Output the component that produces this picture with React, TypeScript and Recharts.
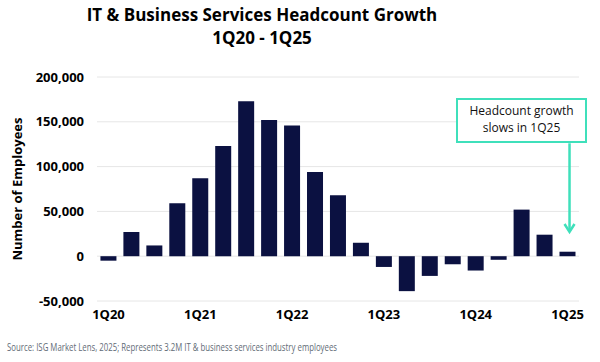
import React from "react";
import {
  BarChart,
  Bar,
  XAxis,
  YAxis,
  CartesianGrid,
  ReferenceLine,
} from "recharts";

const quarters = [
  "1Q20", "2Q20", "3Q20", "4Q20",
  "1Q21", "2Q21", "3Q21", "4Q21",
  "1Q22", "2Q22", "3Q22", "4Q22",
  "1Q23", "2Q23", "3Q23", "4Q23",
  "1Q24", "2Q24", "3Q24", "4Q24",
  "1Q25",
];

const headcountGrowth = [
  -5000, 27000, 12000, 59000,
  87000, 123000, 173000, 152000,
  146000, 94000, 68000, 15000,
  -12000, -39000, -22000, -9000,
  -16000, -4000, 52000, 24000,
  5000,
];

const yTicks = [-50000, 0, 50000, 100000, 150000, 200000];

const NAVY = "#0b1141";
const TEAL = "#3fe0bb";
const FONT = "'Open Sans', sans-serif";

const data = quarters.map((q, i) => ({ quarter: q, value: headcountGrowth[i] }));

const ArrowShape = (props: any) => {
  const { x1, y1, x2, y2 } = props;
  if (x1 == null) return null;
  const x = x1 + 2;
  return (
    <g>
      <line x1={x} y1={y1} x2={x} y2={y2 - 2} stroke={TEAL} strokeWidth={2.5} />
      <polyline
        points={`${x - 5},${y2 - 8} ${x},${y2} ${x + 5},${y2 - 8}`}
        fill="none"
        stroke={TEAL}
        strokeWidth={2.5}
      />
    </g>
  );
};

export default function App() {
  return (
    <div
      style={{
        position: "absolute",
        left: 0,
        top: 0,
        width: 600,
        height: 362,
        background: "#fff",
        fontFamily: FONT,
      }}
    >
      <div
        style={{
          position: "absolute",
          left: 0,
          top: 3,
          width: 524,
          textAlign: "center",
          fontWeight: 700,
          fontSize: 17,
          lineHeight: "23px",
          color: "#000",
        }}
      >
        <div>IT &amp; Business Services Headcount Growth</div>
        <div>1Q20 - 1Q25</div>
      </div>

      <BarChart
        width={600}
        height={362}
        data={data}
        margin={{ top: 77, right: 21, bottom: 31, left: 0 }}
        barCategoryGap="15%"
      >
        <CartesianGrid vertical={false} stroke="#e6e6e6" />
        <XAxis
          dataKey="quarter"
          interval={3}
          axisLine={false}
          tickLine={false}
          tickSize={0}
          tickMargin={9}
          height={30}
          tick={{ fill: "#000", fontSize: 13, fontWeight: 700, fontFamily: FONT }}
        />
        <YAxis
          domain={[-50000, 200000]}
          ticks={yTicks}
          width={97}
          axisLine={false}
          tickLine={false}
          tickSize={0}
          tickMargin={13}
          tickFormatter={(v: number) => v.toLocaleString("en-US")}
          tick={{ fill: "#000", fontSize: 13, fontWeight: 700, fontFamily: FONT }}
          label={{
            value: "Number of Employees",
            angle: -90,
            position: "insideLeft",
            offset: 17,
            style: {
              textAnchor: "middle",
              fill: "#000",
              fontSize: 13,
              fontWeight: 700,
              fontFamily: FONT,
            },
          }}
        />
        <Bar dataKey="value" fill={NAVY} isAnimationActive={false} />
        <ReferenceLine
          segment={[
            { x: "1Q25", y: 126000 },
            { x: "1Q25", y: 27000 },
          ]}
          shape={ArrowShape}
        />
      </BarChart>

      <div
        style={{
          position: "absolute",
          left: 456,
          top: 98,
          width: 131,
          height: 45,
          boxSizing: "border-box",
          border: `2.5px solid ${TEAL}`,
          background: "#fff",
          color: "#111",
          fontSize: 12,
          lineHeight: "17px",
          textAlign: "center",
          paddingTop: 2,
        }}
      >
        <div>Headcount growth</div>
        <div>slows in 1Q25</div>
      </div>

      <svg
        width={600}
        height={20}
        style={{ position: "absolute", left: 0, top: 338 }}
      >
        <text
          x={7}
          y={13}
          fontSize={10}
          fill="#5f6b76"
          fontFamily={FONT}
          textLength={330}
          lengthAdjust="spacingAndGlyphs"
        >
          Source: ISG Market Lens, 2025; Represents 3.2M IT &amp; business services industry employees
        </text>
      </svg>
    </div>
  );
}
